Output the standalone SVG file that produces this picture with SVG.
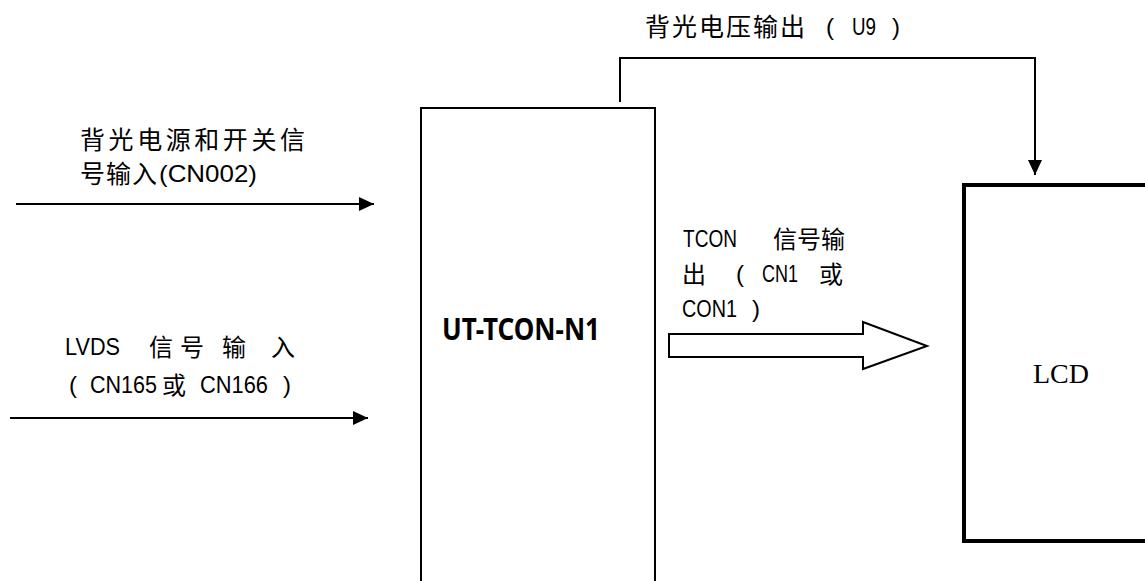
<svg xmlns="http://www.w3.org/2000/svg" width="1145" height="581" viewBox="0 0 1145 581">
<style>
.t{font-family:"Noto Sans CJK SC","Noto Sans",sans-serif;font-size:25px;fill:#000}
.s{font-family:"Noto Sans CJK SC","Noto Sans",sans-serif;font-size:24px;fill:#000}
.l{font-family:"Liberation Sans","Noto Sans",sans-serif;font-size:24px;fill:#000}
.ln{fill:none;stroke:#000;stroke-width:2}
.box{fill:#fff;stroke:#000;stroke-width:2}
</style>
<defs>
<marker id="ah" markerWidth="15" markerHeight="14" refX="15" refY="7" orient="auto" markerUnits="userSpaceOnUse">
<path d="M0,0 L15,7 L0,14 Z" fill="#000"/>
</marker>
</defs>
<rect width="1145" height="581" fill="#fff"/>
<g id="tcon">
<rect class="box" x="421" y="108" width="234" height="500"/>
<text x="442" y="340" font-family="'Noto Sans','Liberation Sans',sans-serif" font-weight="bold" font-size="30" textLength="158" lengthAdjust="spacingAndGlyphs">UT-TCON-N1</text>
</g>
<g id="lcd">
<rect x="964" y="185" width="200" height="356" fill="#fff" stroke="#000" stroke-width="4"/>
<text x="1061" y="383" text-anchor="middle" font-family="'Liberation Serif',serif" font-size="28">LCD</text>
</g>
<g id="connectors">
<path class="ln" d="M620,102 V58 H1035 V175" marker-end="url(#ah)"/>
<line class="ln" x1="16" y1="204" x2="374" y2="204" marker-end="url(#ah)"/>
<line class="ln" x1="10" y1="418" x2="368" y2="418" marker-end="url(#ah)"/>
<path d="M669,334 H863 V322 L927,346 L863,369 V357 H669 Z" fill="#fff" stroke="#000" stroke-width="2"/>
</g>
<g id="labels">
<text class="t" x="645" y="36" textLength="160">背光电压输出</text>
<text class="l" x="826" y="35">(</text>
<text class="l" x="852" y="35" textLength="24" lengthAdjust="spacingAndGlyphs">U9</text>
<text class="l" x="892" y="35">)</text>

<text class="t" x="80" y="149" textLength="225">背光电源和开关信</text>
<text class="t" x="80" y="183" textLength="77">号输入</text>
<text class="l" x="159" y="182" textLength="98" lengthAdjust="spacingAndGlyphs">(CN002)</text>

<text class="l" x="65" y="355" textLength="55" lengthAdjust="spacingAndGlyphs">LVDS</text>
<text class="s" x="149" y="356">信</text>
<text class="s" x="180" y="356">号</text>
<text class="s" x="222" y="356">输</text>
<text class="s" x="271" y="356">入</text>

<text class="l" x="69" y="393">(</text>
<text class="l" x="90" y="393" textLength="67" lengthAdjust="spacingAndGlyphs">CN165</text>
<text class="s" x="162" y="394">或</text>
<text class="l" x="200" y="393" textLength="68" lengthAdjust="spacingAndGlyphs">CN166</text>
<text class="l" x="283" y="393">)</text>

<text class="l" x="683" y="247" textLength="54" lengthAdjust="spacingAndGlyphs">TCON</text>
<text class="s" x="773" y="248" textLength="72">信号输</text>
<text class="s" x="682" y="283">出</text>
<text class="l" x="736" y="282">(</text>
<text class="l" x="762" y="282" textLength="36" lengthAdjust="spacingAndGlyphs">CN1</text>
<text class="s" x="819" y="283">或</text>
<text class="l" x="682" y="317" textLength="55" lengthAdjust="spacingAndGlyphs">CON1</text>
<text class="l" x="752" y="317">)</text>
</g>
</svg>
